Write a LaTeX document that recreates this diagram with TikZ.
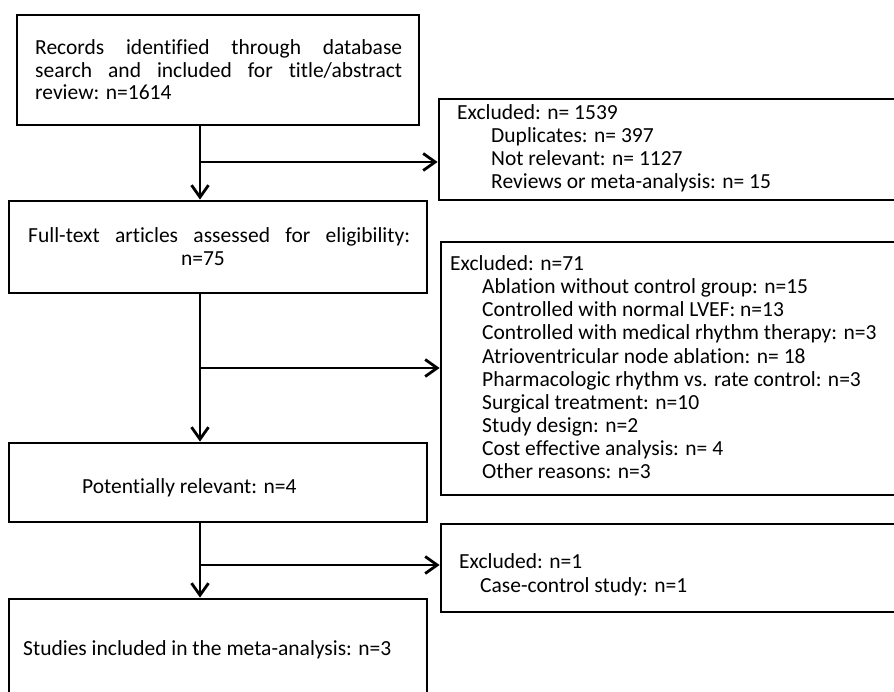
\documentclass[tikz,border=0pt]{standalone}
\usepackage{fontspec}
\setmainfont[Ligatures=NoCommon]{Carlito}
\usetikzlibrary{arrows.meta}
\begin{document}
\begin{tikzpicture}[x=1pt,y=-1pt,
  box/.style={draw, rectangle, line width=2.8pt, inner sep=0pt},
  txt/.style={anchor=base west, inner sep=0pt, font=\fontsize{21.5}{23}\selectfont},
  arr/.style={line width=2.8pt, -{Straight Barb[length=12pt,width=17pt]}}]
\useasboundingbox (0,0) rectangle (894,692);
\clip (0,0) rectangle (894,692);
% boxes
\node[box, minimum width=402pt, minimum height=110pt] (b1) at (218,70) {};
\node[box, minimum width=471pt, minimum height=101pt] (b2) at (674.5,149.5) {};
\node[box, minimum width=418pt, minimum height=92pt] (b3) at (218,247) {};
\node[box, minimum width=469pt, minimum height=253pt] (b4) at (675.5,368.5) {};
\node[box, minimum width=418pt, minimum height=79pt] (b5) at (218,482.5) {};
\node[box, minimum width=469pt, minimum height=88pt] (b6) at (675.5,568) {};
\node[box, minimum width=418pt, minimum height=111pt] (b7) at (218,654.5) {};
% texts
\node[txt] (t1a) at (35,55) {\makebox[367pt][s]{Records identified through database}};
\node[txt] (t1b) at (35,78) {\makebox[367pt][s]{search and included for title/abstract}};
\node[txt] (t1c) at (35,100) {review: n=1614};
\node[txt] (t2a) at (457,120) {Excluded: n= 1539};
\node[txt] (t2b) at (491,143) {Duplicates: n= 397};
\node[txt] (t2c) at (491,166) {Not relevant: n= 1127};
\node[txt] (t2d) at (491,189) {Reviews or meta-analysis: n= 15};
\node[txt] (t3a) at (28,243) {\makebox[382pt][s]{Full-text articles assessed for eligibility:}};
\node[txt, anchor=base] (t3b) at (203,266) {n=75};
\node[txt] (t4a) at (450,271) {Excluded: n=71};
\node[txt] (t4b) at (482,294) {Ablation without control group: n=15};
\node[txt] (t4c) at (482,317) {Controlled with normal LVEF: n=13};
\node[txt] (t4d) at (482,340) {Controlled with medical rhythm therapy: n=3};
\node[txt] (t4e) at (482,363) {Atrioventricular node ablation: n= 18};
\node[txt] (t4f) at (482,386) {Pharmacologic rhythm vs. rate control: n=3};
\node[txt] (t4g) at (482,409) {Surgical treatment: n=10};
\node[txt] (t4h) at (482,432) {Study design: n=2};
\node[txt] (t4i) at (482,455) {Cost effective analysis: n= 4};
\node[txt] (t4j) at (482,478) {Other reasons: n=3};
\node[txt] (t5) at (82,493) {Potentially relevant: n=4};
\node[txt] (t6a) at (459,568) {Excluded: n=1};
\node[txt] (t6b) at (480,592) {Case-control study: n=1};
\node[txt] (t7) at (23,655) {Studies included in the meta-analysis: n=3};
% connectors
\coordinate (c1) at (200,162);
\coordinate (c2) at (200,368);
\coordinate (c3) at (200,565);
\draw[arr] (b1.south -| c1) -- (b3.north -| c1);
\draw[arr] (c1) -- (c1 -| b2.west);
\draw[arr] (b3.south -| c2) -- (b5.north -| c2);
\draw[arr] (c2) -- (c2 -| b4.west);
\draw[arr] (b5.south -| c3) -- (b7.north -| c3);
\draw[arr] (c3) -- (c3 -| b6.west);
\end{tikzpicture}
\end{document}
